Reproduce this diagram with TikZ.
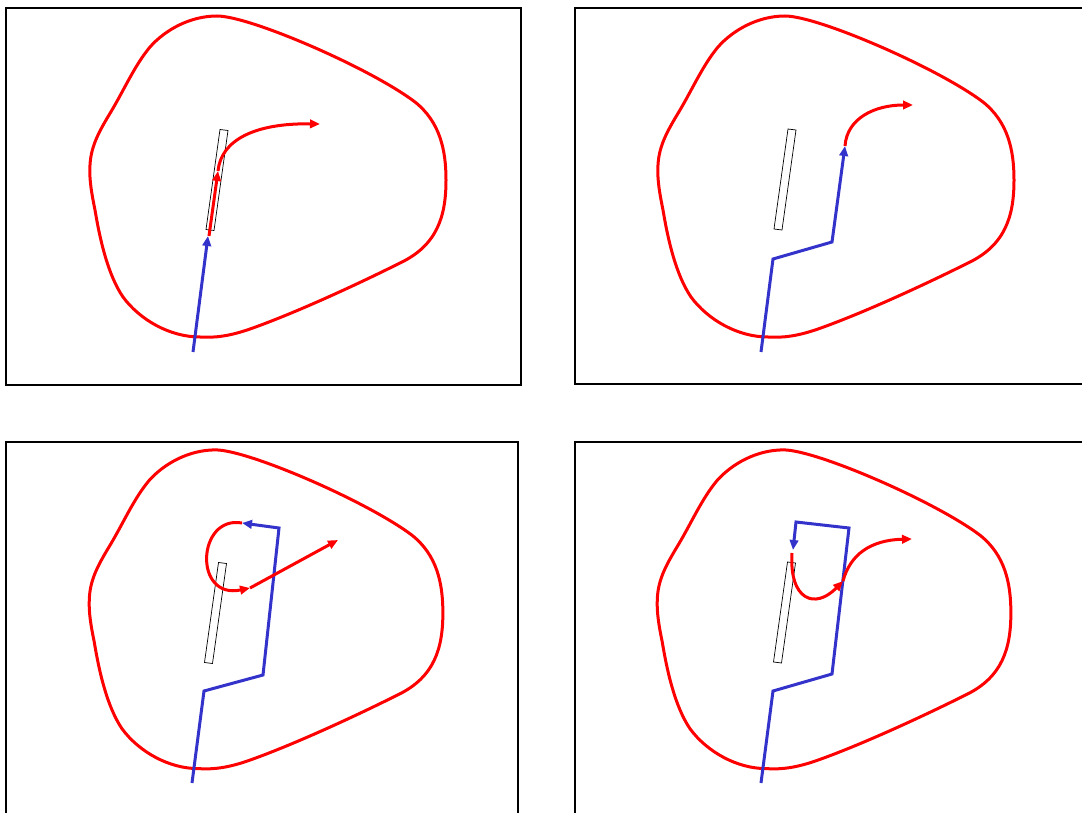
\documentclass[tikz,border=0pt]{standalone}
\usetikzlibrary{arrows.meta}
\definecolor{pathblue}{RGB}{51,51,204}
\tikzset{
  frame/.style={draw=black, line width=1.8pt},
  region/.style={draw=red, line width=3pt},
  slab/.style={draw=black, line width=0.7pt},
  redarrow/.style={draw=red, line width=3pt, -{Triangle[length=10pt,width=8.5pt]}},
  bluearrow/.style={draw=pathblue, line width=3pt, line join=miter, -{Triangle[length=10pt,width=8.5pt]}},
}
\def\blobpath{(217,16) .. controls (250,16) and (370,68) .. (415,102)
 .. controls (440,122) and (446,150) .. (446,180)
 .. controls (446,215) and (438,245) .. (400,263)
 .. controls (350,288) and (290,315) .. (250,329)
 .. controls (230,336) and (215,338) .. (200,337)
 .. controls (170,337) and (140,320) .. (123,297)
 .. controls (108,275) and (100,240) .. (95,210)
 .. controls (92,195) and (89,180) .. (90,165)
 .. controls (91,145) and (100,130) .. (112,110)
 .. controls (125,88) and (135,65) .. (150,47)
 .. controls (165,30) and (190,16) .. cycle}
\begin{document}
\begin{tikzpicture}[x=1pt,y=-1pt]
\useasboundingbox (0,0) rectangle (1082,813);
\clip (0,0) rectangle (1082,813);
% frames and regions
\begin{scope}
  \draw[frame] (6,8) rectangle (521,385);
  \draw[region] \blobpath;
\end{scope}
\begin{scope}[shift={(568,0)}]
  \draw[frame] (7,8) rectangle (560,384);
  \draw[region] \blobpath;
\end{scope}
\begin{scope}[shift={(0,434)},scale=0.993]
  \draw[frame] (6,8) rectangle (521.5,400);
  \draw[region] \blobpath;
\end{scope}
\begin{scope}[shift={(568,434)},scale=0.993]
  \draw[frame] (7,8) rectangle (560,400);
  \draw[region] \blobpath;
\end{scope}
% slabs
\draw[slab] (220,129.5) -- ++(8,1) -- ++(-14,100) -- ++(-8,-1) -- cycle;
\draw[slab] (788,129) -- ++(8,1) -- ++(-14,100) -- ++(-8,-1) -- cycle;
\draw[slab] (218.5,562.5) -- ++(8,1) -- ++(-14,100) -- ++(-8,-1) -- cycle;
\draw[slab] (787.5,562) -- ++(8,1) -- ++(-14,100) -- ++(-8,-1) -- cycle;
% panel 1
\coordinate (a1) at (193,352);
\coordinate (a2) at (208,236);
\coordinate (a3) at (209,236);
\coordinate (a4) at (218,171);
\coordinate (a5) at (320,124);
\draw[bluearrow] (a1) -- (a2);
\draw[redarrow] (a3) -- (a4);
\draw[redarrow] (a4) .. controls (221,140) and (255,123) .. (a5);
% panel 2
\coordinate (b1) at (761,352);
\coordinate (b2) at (773,259);
\coordinate (b3) at (832,242);
\coordinate (b4) at (845,146);
\coordinate (b5) at (913,105);
\draw[bluearrow] (b1) -- (b2) -- (b3) -- (b4);
\draw[redarrow] (b4) .. controls (847,118) and (875,105) .. (b5);
% panel 3
\coordinate (c1) at (192,783);
\coordinate (c2) at (204,691);
\coordinate (c3) at (263,675);
\coordinate (c4) at (279,528);
\coordinate (c5) at (242,523);
\coordinate (c6) at (250,588);
\coordinate (c7) at (338,540);
\draw[bluearrow] (c1) -- (c2) -- (c3) -- (c4) -- (c5);
\draw[redarrow] (c5) .. controls (197,515) and (193,600) .. (c6);
\draw[redarrow] (c6) -- (c7);
% panel 4
\coordinate (d1) at (761,783);
\coordinate (d2) at (773,691);
\coordinate (d3) at (832,674);
\coordinate (d4) at (849,528);
\coordinate (d5) at (796,522);
\coordinate (d6) at (793,550);
\coordinate (d7) at (792,553);
\coordinate (d8) at (843,581);
\coordinate (d9) at (912,539);
\draw[bluearrow] (d1) -- (d2) -- (d3) -- (d4) -- (d5) -- (d6);
\draw[redarrow] (d7) .. controls (789,600) and (815,610) .. (d8);
\draw[redarrow] (d8) .. controls (850,555) and (870,540) .. (d9);
\end{tikzpicture}
\end{document}
